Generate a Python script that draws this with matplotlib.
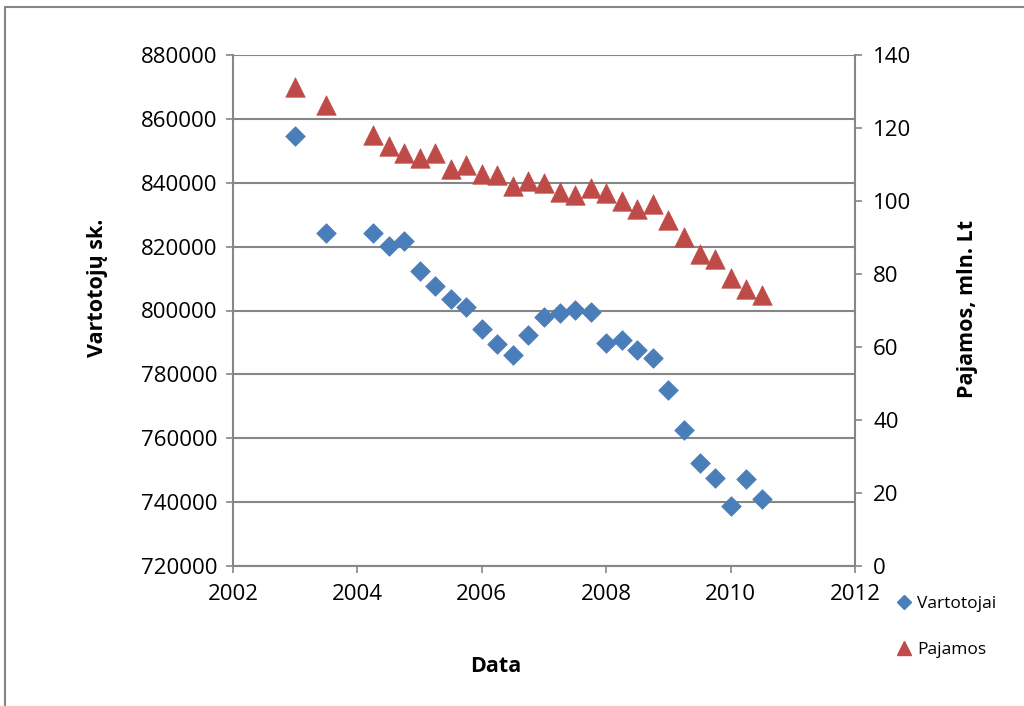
import matplotlib
matplotlib.use("Agg")
import matplotlib.pyplot as plt
from matplotlib.lines import Line2D
from matplotlib.patches import Rectangle

# Quarterly observations (decimal year)
dates = [2003.0, 2003.5, 2004.25, 2004.5, 2004.75, 2005.0, 2005.25, 2005.5,
         2005.75, 2006.0, 2006.25, 2006.5, 2006.75, 2007.0, 2007.25, 2007.5,
         2007.75, 2008.0, 2008.25, 2008.5, 2008.75, 2009.0, 2009.25, 2009.5,
         2009.75, 2010.0, 2010.25, 2010.5]

# Number of consumers
vartotojai = [854600, 824200, 824400, 820200, 821900, 812500, 807700, 803700,
              801200, 794300, 789500, 786100, 792300, 798100, 799100, 800200,
              799400, 789700, 790800, 787600, 785000, 775100, 762600, 752200,
              747700, 738800, 747200, 741100]

# Revenue, mln. Lt
pajamos = [131.2, 126.3, 118.1, 115.1, 113.1, 111.8, 113.1, 108.7, 109.8,
           107.4, 107.1, 104.1, 105.6, 104.8, 102.6, 101.6, 103.5, 102.3,
           100.1, 97.7, 99.2, 94.8, 90.2, 85.4, 84.1, 79.0, 75.9, 74.2]

x_ticks = [2002, 2004, 2006, 2008, 2010, 2012]
left_ticks = [720000, 740000, 760000, 780000, 800000, 820000, 840000, 860000, 880000]
right_ticks = [0, 20, 40, 60, 80, 100, 120, 140]

BLUE = "#4A7EBB"
RED = "#BE4B48"
GREY = "#868686"
FONT = "Open Sans"

plt.rcParams["font.family"] = [FONT, "DejaVu Sans"]

fig = plt.figure(figsize=(10.24, 7.06), dpi=100)
ax = fig.add_axes([233 / 1024, 1 - 566 / 706, (855 - 233) / 1024, (566 - 55) / 706])
ax2 = ax.twinx()

ax.scatter(dates, vartotojai, marker="D", s=10.0 ** 2, color=BLUE,
           edgecolors=BLUE, linewidths=0.5, zorder=3)
ax2.scatter(dates, pajamos, marker="^", s=14.0 ** 2, color=RED,
            edgecolors=RED, linewidths=0.5, zorder=3)

ax.set_xlim(2002, 2012)
ax.set_ylim(720000, 880000)
ax2.set_ylim(0, 140)
ax.set_xticks(x_ticks)
ax.set_yticks(left_ticks)
ax2.set_yticks(right_ticks)

ax.yaxis.grid(True, color=GREY, linewidth=1.5)
ax.set_axisbelow(True)

for a in (ax, ax2):
    for s in a.spines.values():
        s.set_visible(False)
ax.spines["left"].set_visible(True)
ax.spines["bottom"].set_visible(True)
ax2.spines["right"].set_visible(True)
for s in (ax.spines["left"], ax.spines["bottom"], ax2.spines["right"]):
    s.set_color(GREY)
    s.set_linewidth(1.5)

ax.tick_params(axis="both", direction="out", length=5, width=1.2, color=GREY,
               labelsize=16, pad=6)
ax.tick_params(axis="x", pad=8)
ax2.tick_params(axis="y", direction="out", length=5, width=1.2, color=GREY,
                labelsize=16, pad=8)

fig.text(97 / 1024, 1 - 288 / 706, "Vartotojų sk.", rotation=90, ha="center",
         va="center", fontsize=15.5, fontweight="bold")
fig.text(968 / 1024, 1 - 309 / 706, "Pajamos, mln. Lt", rotation=90, ha="center",
         va="center", fontsize=15.5, fontweight="bold")
fig.text(496 / 1024, 1 - 667 / 706, "Data", ha="center", va="center",
         fontsize=15.5, fontweight="bold")

handles = [
    Line2D([], [], linestyle="none", marker="D", markersize=7, color=BLUE),
    Line2D([], [], linestyle="none", marker="^", markersize=10, color=RED),
]
fig.legend(handles, ["Vartotojai", "Pajamos"], loc="upper left",
           bbox_to_anchor=(897 / 1024, 1 - 596 / 706), frameon=False,
           fontsize=12.5, handlelength=0.8, handletextpad=0.35,
           labelspacing=1.7, borderaxespad=0, borderpad=0)

# outer chart frame
fig.patches.append(Rectangle((4.5 / 1024, -0.1), 1.2, 1.1 - 6.5 / 706,
                             transform=fig.transFigure, fill=False,
                             edgecolor=GREY, linewidth=1.5))

fig.savefig("out.png", dpi=100)
